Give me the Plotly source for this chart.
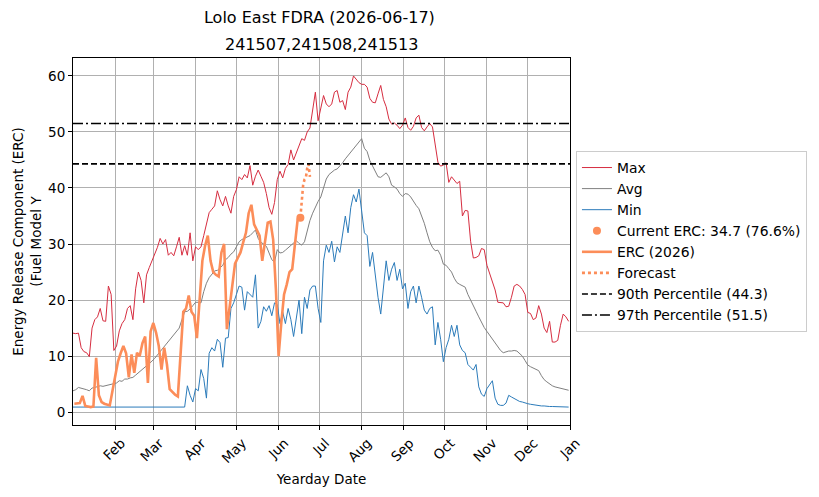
import pandas as pd
import plotly.graph_objects as go

# ---------------- data ----------------
title_text = "Lolo East FDRA (2026-06-17)"
subtitle_text = "241507,241508,241513"
month_ticks = ["2026-02-01", "2026-03-01", "2026-04-01", "2026-05-01", "2026-06-01", "2026-07-01",
               "2026-08-01", "2026-09-01", "2026-10-01", "2026-11-01", "2026-12-01", "2027-01-01"]
month_labels = ["Feb", "Mar", "Apr", "May", "Jun", "Jul", "Aug", "Sep", "Oct", "Nov", "Dec", "Jan"]
x_start, x_end = "2026-01-01", "2027-01-01"

# climatology, every second day starting Jan 1
clim_start = "2026-01-01"
max_vals = [
    14.1, 14.0, 14.1, 11.5, 10.8, 10.6, 9.9, 15.0, 16.5, 17.0,
    18.5, 16.3, 16.2, 22.5, 21.0, 11.0, 11.8, 14.5, 15.8, 16.5,
    18.5, 19.0, 16.5, 22.0, 25.0, 23.5, 19.5, 24.5, 25.8, 27.0,
    28.0, 29.4, 31.0, 30.0, 30.8, 28.0, 28.5, 27.9, 29.5, 31.2,
    28.0, 29.7, 28.0, 32.0, 27.0, 29.5, 29.0, 29.5, 31.5, 33.8,
    35.6, 36.2, 36.8, 39.5, 37.9, 36.8, 38.5, 36.8, 35.5, 38.5,
    39.7, 42.0, 41.5, 42.4, 41.8, 44.0, 40.5, 42.1, 43.2, 42.1,
    41.0, 39.0, 36.5, 35.3, 37.4, 41.5, 43.0, 41.8, 43.5, 44.2,
    46.8, 45.0, 46.2, 47.4, 48.8, 48.5, 50.0, 50.7, 53.8, 57.1,
    52.0, 54.4, 56.5, 55.0, 54.5, 55.0, 57.1, 57.4, 55.3, 55.6,
    54.0, 57.1, 58.0, 60.0, 59.4, 58.8, 58.5, 58.5, 58.0, 56.0,
    55.3, 55.2, 56.8, 58.3, 55.8, 54.5, 52.3, 51.4, 51.6, 51.2,
    50.6, 51.2, 52.5, 50.8, 50.3, 51.0, 52.5, 53.0, 50.8, 50.2,
    50.9, 51.5, 50.9, 48.0, 44.6, 43.9, 44.1, 44.5, 41.0, 42.0,
    41.3, 40.8, 41.2, 35.0, 36.0, 35.9, 30.5, 27.5, 27.6, 27.9,
    29.2, 29.0, 26.2, 24.8, 23.0, 21.8, 19.6, 19.5, 19.5, 18.8,
    18.9, 20.5, 22.5, 22.8, 22.5, 21.9, 21.0, 17.8, 17.6, 16.5,
    16.8, 19.0, 17.5, 15.0, 14.2, 16.2, 12.5, 12.5, 12.8, 15.5,
    17.5, 17.0, 16.2,
]
avg_vals = [
    3.8, 4.0, 4.4, 4.3, 4.1, 4.0, 3.8, 4.3, 4.4, 4.6,
    4.7, 4.6, 4.7, 4.8, 5.0, 5.0, 5.2, 5.6, 5.5, 5.9,
    5.9, 6.1, 6.2, 6.6, 7.0, 7.4, 7.9, 8.2, 8.6, 9.1,
    9.6, 10.2, 10.7, 11.4, 12.0, 12.5, 13.2, 13.7, 14.3, 15.0,
    16.5, 17.9, 18.0, 18.4, 19.0, 19.6, 19.6, 19.5, 21.5, 23.0,
    24.0, 24.6, 25.2, 25.3, 25.7, 26.2, 27.2, 27.6, 28.2, 28.6,
    29.5, 30.4, 30.8, 31.0, 31.3, 31.5, 32.0, 32.5, 31.0, 30.3,
    30.0, 29.6, 28.4, 27.2, 26.8, 29.0, 28.4, 28.5, 28.9, 29.3,
    29.8, 30.2, 30.6, 30.1, 29.8, 30.4, 32.4, 34.2, 35.5, 36.6,
    37.6, 38.4, 39.9, 41.6, 42.4, 42.8, 43.2, 43.4, 43.9, 44.5,
    45.2, 45.8, 46.5, 47.2, 47.7, 48.4, 48.8, 47.1, 46.5, 44.9,
    43.9, 42.7, 42.0, 41.9, 42.3, 42.7, 42.0, 40.5, 40.2, 39.8,
    39.0, 38.5, 39.0, 38.9, 38.4, 37.6, 36.9, 36.3, 35.0, 33.7,
    32.0, 30.4, 29.4, 28.8, 28.9, 28.0, 26.4, 26.2, 25.6, 25.0,
    23.9, 23.1, 22.8, 22.5, 22.3, 21.0, 19.9, 18.9, 18.0, 17.0,
    16.0, 15.1, 14.4, 13.7, 13.0, 12.2, 11.6, 11.0, 10.6, 10.8,
    10.9, 10.9, 11.0, 10.9, 10.5, 10.0, 9.2, 8.4, 8.1, 7.9,
    7.7, 7.4, 6.5, 5.8, 5.4, 5.0, 4.7, 4.5, 4.4, 4.2,
    4.1, 4.0, 3.9,
]
min_vals = [
    0.9, 0.9, 0.9, 0.9, 0.9, 0.9, 0.9, 0.9, 0.9, 0.9,
    0.9, 0.9, 0.9, 0.9, 0.9, 0.9, 0.9, 0.9, 0.9, 0.9,
    0.9, 0.9, 0.9, 0.9, 0.9, 0.9, 0.9, 0.9, 0.9, 0.9,
    0.9, 0.9, 0.9, 0.9, 0.9, 0.9, 0.9, 0.9, 0.9, 0.9,
    0.9, 0.9, 4.7, 3.0, 1.8, 4.2, 3.8, 7.6, 6.0, 2.5,
    10.5, 11.5, 10.9, 13.0, 12.4, 8.0, 13.2, 13.3, 18.5, 19.5,
    21.0, 22.5, 22.3, 18.2, 21.5, 21.0, 20.5, 24.5, 15.0, 16.2,
    18.8, 18.0, 19.0, 17.2, 19.5, 19.2, 15.8, 17.9, 15.8, 18.5,
    16.5, 13.5, 17.0, 20.0, 14.0, 20.5, 18.5, 21.8, 22.5, 22.5,
    18.5, 16.0, 27.0, 29.8, 28.5, 30.5, 26.8, 29.5, 28.5, 31.5,
    35.0, 32.0, 36.5, 38.8, 37.5, 39.8, 36.0, 32.0, 31.5, 26.0,
    28.5, 24.1, 20.5, 17.5, 22.0, 27.0, 23.5, 25.5, 26.7, 23.5,
    25.5, 22.0, 23.0, 18.5, 21.5, 22.5, 19.5, 22.5, 20.5, 18.2,
    17.5, 18.5, 18.8, 12.0, 16.0, 13.0, 9.0, 11.5, 13.0, 15.5,
    13.5, 15.5, 12.0, 11.0, 10.6, 8.5, 8.0, 7.5, 8.5, 4.5,
    3.2, 2.8, 4.2, 5.0, 5.6, 2.5, 1.4, 1.2, 1.2, 1.6,
    3.0, 2.7, 2.4, 2.1, 1.9, 1.8, 1.6, 1.5, 1.4, 1.3,
    1.2, 1.2, 1.1, 1.1, 1.0, 1.0, 1.0, 1.0, 0.9, 0.9,
    0.9, 0.9, 0.9,
]

# ERC 2026, every second day starting Jan 2, ending Jun 17
erc_start = "2026-01-02"
erc_vals = [
    1.5, 1.5, 1.6, 2.9, 1.1, 1.0, 0.9, 1.0, 9.7, 3.0,
    1.8, 1.5, 1.4, 1.2, 3.8, 6.5, 9.0, 10.5, 11.8, 10.5,
    6.2, 10.3, 7.0, 10.6, 10.0, 12.3, 13.5, 5.2, 14.4, 15.9,
    14.2, 11.8, 7.6, 11.5, 8.5, 4.1, 3.6, 3.1, 2.8, 10.5,
    17.9, 18.5, 20.8, 17.9, 17.2, 13.2, 21.0, 27.0, 29.7, 31.5,
    27.0, 25.0, 24.5, 24.2, 28.5, 30.0, 14.8, 18.5, 23.0, 26.5,
    27.5, 28.5, 30.3, 32.0, 35.5, 37.0, 33.5, 32.5, 31.5, 27.0,
    30.0, 33.8, 34.0, 30.8, 22.0, 10.0, 16.0, 21.0, 22.8, 25.0,
    25.5, 30.5, 34.4, 34.7,
]

# forecast, daily from Jun 17
fc_start = "2026-06-17"
fc_vals = [34.7, 38.0, 40.5, 41.5, 41.8, 43.5, 44.3, 42.0]

current_date = "2026-06-17"
current_erc = 34.7
current_pct = 76.6
p90 = 44.3
p97 = 51.5

# ---------------- colours / styles ----------------
c_max = "#d62d40"
c_avg = "#808080"
c_min = "#2b7bba"
c_erc = "#fc8d59"

clim_dates = pd.date_range(clim_start, periods=len(max_vals), freq="2D")
erc_dates = pd.date_range(erc_start, periods=len(erc_vals), freq="2D")
fc_dates = pd.date_range(fc_start, periods=len(fc_vals), freq="D")

fig = go.Figure()
fig.add_trace(go.Scatter(x=clim_dates, y=max_vals, mode="lines", name="Max",
                         line=dict(color=c_max, width=1)))
fig.add_trace(go.Scatter(x=clim_dates, y=avg_vals, mode="lines", name="Avg",
                         line=dict(color=c_avg, width=1)))
fig.add_trace(go.Scatter(x=clim_dates, y=min_vals, mode="lines", name="Min",
                         line=dict(color=c_min, width=1)))
fig.add_trace(go.Scatter(x=[current_date], y=[current_erc], mode="markers",
                         name=f"Current ERC: {current_erc} ({current_pct}%)",
                         marker=dict(color=c_erc, size=8)))
fig.add_trace(go.Scatter(x=erc_dates, y=erc_vals, mode="lines", name="ERC (2026)",
                         line=dict(color=c_erc, width=2.6)))
fig.add_trace(go.Scatter(x=fc_dates, y=fc_vals, mode="lines", name="Forecast",
                         line=dict(color=c_erc, width=2.6, dash="dot")))
fig.add_trace(go.Scatter(x=[x_start, x_end], y=[p90, p90], mode="lines",
                         name=f"90th Percentile ({p90})",
                         line=dict(color="black", width=1.6, dash="6px,3px")))
fig.add_trace(go.Scatter(x=[x_start, x_end], y=[p97, p97], mode="lines",
                         name=f"97th Percentile ({p97})",
                         line=dict(color="black", width=1.6, dash="10px,3px,2px,3px")))

font_family = "DejaVu Sans"
fig.update_layout(
    width=819, height=497,
    margin=dict(l=73, r=248, t=58, b=69),
    paper_bgcolor="white", plot_bgcolor="white",
    font=dict(family=font_family, size=13.5, color="black"),
    title=dict(text=title_text, x=0.39, xanchor="center", y=1 - 17 / 497, yanchor="middle",
               font=dict(family=font_family, size=16, color="black")),
    showlegend=True,
    legend=dict(x=1.012, xanchor="left", y=0.5, yanchor="middle",
                bgcolor="white", bordercolor="#cccccc", borderwidth=1,
                font=dict(family=font_family, size=13.9, color="black"),
                tracegroupgap=0),
    annotations=[dict(text=subtitle_text, xref="paper", yref="paper", x=0.5, y=1 + 14 / 370,
                      xanchor="center", yanchor="middle", showarrow=False,
                      font=dict(family=font_family, size=16, color="black"))],
)
fig.update_xaxes(
    type="date", range=[x_start, x_end],
    tickmode="array", tickvals=month_ticks, ticktext=month_labels, tickangle=-45,
    ticklabelshift=6, ticklabelstandoff=0,
    ticks="outside", ticklen=4, tickcolor="black",
    showgrid=True, gridcolor="#b0b0b0", gridwidth=1,
    showline=True, linecolor="black", linewidth=1, mirror=True,
    zeroline=False,
    title=dict(text="Yearday Date", font=dict(family=font_family, size=13.5), standoff=9),
)
fig.update_yaxes(
    range=[-2.3, 63.2], tickmode="linear", tick0=0, dtick=10,
    ticks="outside", ticklen=4, tickcolor="black",
    showgrid=True, gridcolor="#b0b0b0", gridwidth=1,
    showline=True, linecolor="black", linewidth=1, mirror=True,
    zeroline=False,
    title=dict(text="Energy Release Component (ERC)<br>(Fuel Model Y",
               font=dict(family=font_family, size=13.5), standoff=3),
)

fig.write_html("out.html")
